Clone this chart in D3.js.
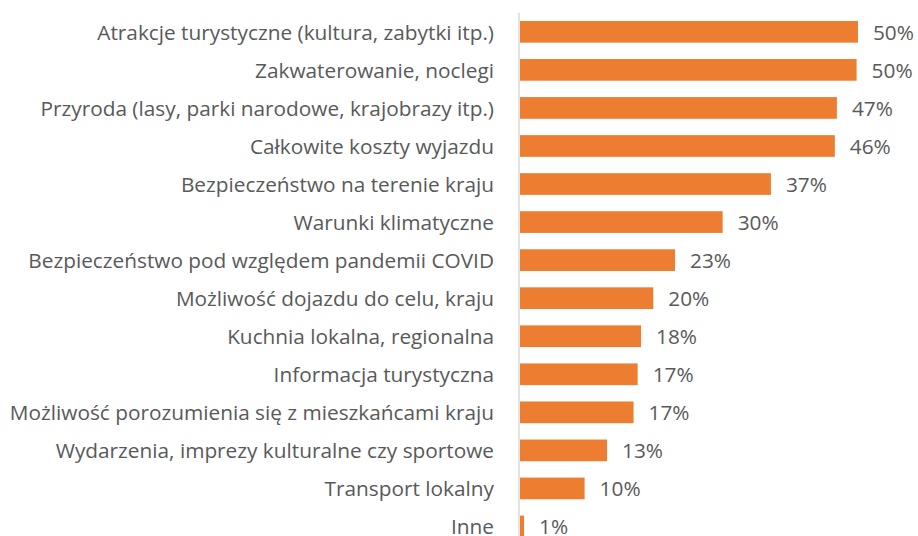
<!DOCTYPE html>
<html>
<head>
<meta charset="utf-8">
<script src="https://cdn.jsdelivr.net/npm/d3@7"></script>
<style>
  body { margin: 0; background: #fff; }
  svg text { font-family: "Open Sans", sans-serif; fill: #595959; }
</style>
</head>
<body>
<div id="chart"></div>
<script>
// categories, top to bottom
var categories = [
  "Atrakcje turystyczne (kultura, zabytki itp.)",
  "Zakwaterowanie, noclegi",
  "Przyroda (lasy, parki narodowe, krajobrazy itp.)",
  "Całkowite koszty wyjazdu",
  "Bezpieczeństwo na terenie kraju",
  "Warunki klimatyczne",
  "Bezpieczeństwo pod względem pandemii COVID",
  "Możliwość dojazdu do celu, kraju",
  "Kuchnia lokalna, regionalna",
  "Informacja turystyczna",
  "Możliwość porozumienia się z mieszkańcami kraju",
  "Wydarzenia, imprezy kulturalne czy sportowe",
  "Transport lokalny",
  "Inne"
];
// share in %
var values = [49.7, 49.5, 46.6, 46.3, 36.9, 29.8, 22.8, 19.6, 17.8, 17.3, 16.7, 12.8, 9.5, 0.6];

var width = 918, height = 536;
var axisX = 519;
var fontSize = "20.8px";

var svg = d3.select("#chart").append("svg")
    .attr("width", width)
    .attr("height", height);

var x = d3.scaleLinear()
    .domain([0, 50])
    .range([axisX + 1, axisX + 341]);

var y = d3.scaleBand()
    .domain(categories)
    .range([12.8, 12.8 + 38.05 * categories.length])
    .paddingInner(0.43)
    .paddingOuter(0.215);

// bars
svg.append("g")
  .selectAll("rect")
    .data(values)
  .enter().append("rect")
    .attr("x", x(0))
    .attr("y", function(d, i) { return y(categories[i]); })
    .attr("width", function(d) { return x(d) - x(0); })
    .attr("height", y.bandwidth())
    .attr("fill", "#ed7d31");

// vertical axis line
svg.append("line")
    .attr("x1", axisX).attr("x2", axisX)
    .attr("y1", y.range()[0]).attr("y2", y.range()[1])
    .style("stroke", "#d9d9d9")
    .style("stroke-width", 1.5);

// category labels
svg.append("g")
  .selectAll("text")
    .data(categories)
  .enter().append("text")
    .attr("x", 494)
    .attr("y", function(d) { return y(d) + y.bandwidth() / 2; })
    .attr("dy", "0.37em")
    .attr("text-anchor", "end")
    .style("font-size", fontSize)
    .text(function(d) { return d; });

// value labels
svg.append("g")
  .selectAll("text")
    .data(values)
  .enter().append("text")
    .attr("x", function(d) { return x(d) + 15; })
    .attr("y", function(d, i) { return y(categories[i]) + y.bandwidth() / 2; })
    .attr("dy", "0.37em")
    .style("font-size", fontSize)
    .text(function(d) { return Math.round(d) + "%"; });
</script>
</body>
</html>
